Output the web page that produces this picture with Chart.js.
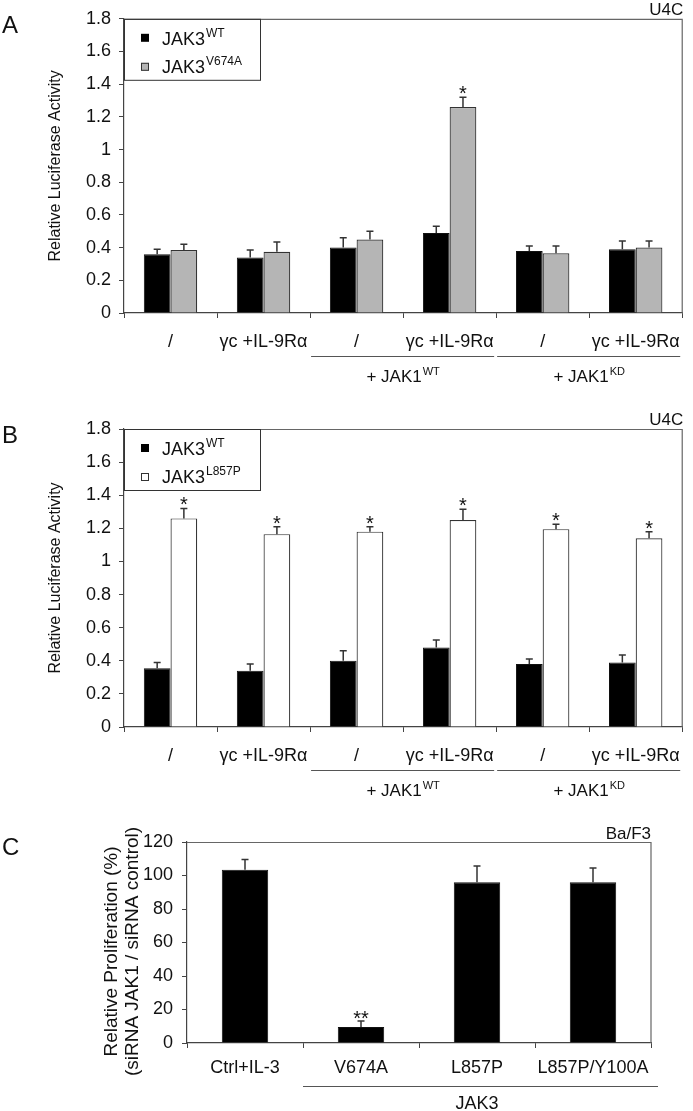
<!DOCTYPE html>
<html>
<head>
<meta charset="utf-8">
<script src="https://cdn.jsdelivr.net/npm/chart.js@4.4.0/dist/chart.umd.min.js"></script>
<style>
  body { margin: 0; background: #fff; width: 693px; height: 1111px; position: relative; overflow: hidden; }
  .panel { position: absolute; left: 0; width: 693px; }
  canvas { display: block; }
</style>
</head>
<body>
<div class="panel" style="top:0;height:400px"><canvas id="chartA" width="693" height="400"></canvas></div>
<div class="panel" style="top:400px;height:410px"><canvas id="chartB" width="693" height="410"></canvas></div>
<div class="panel" style="top:810px;height:301px"><canvas id="chartC" width="693" height="301"></canvas></div>
<script>
const FONT = "'Liberation Sans', Arial, Helvetica, sans-serif";
Chart.defaults.font.family = FONT;
Chart.defaults.color = '#222';
Chart.defaults.animation = false;

// Panels A and B: transfection conditions
const conditions = ['/', 'γc +IL-9Rα', '/', 'γc +IL-9Rα', '/', 'γc +IL-9Rα'];
const lucTicks = [0, 0.2, 0.4, 0.6, 0.8, 1, 1.2, 1.4, 1.6, 1.8];
const lucTickLabels = ['0', '0.2', '0.4', '0.6', '0.8', '1', '1.2', '1.4', '1.6', '1.8'];

// Panel A
const wtA = [0.36, 0.34, 0.40, 0.49, 0.38, 0.39];
const wtAErr = [0.03, 0.045, 0.06, 0.04, 0.03, 0.05];
const v674a = [0.385, 0.375, 0.45, 1.26, 0.365, 0.40];
const v674aErr = [0.035, 0.06, 0.05, 0.06, 0.045, 0.04];
const v674aStars = ['', '', '', '*', '', ''];

// Panel B
const wtB = [0.355, 0.34, 0.40, 0.48, 0.38, 0.39];
const wtBErr = [0.035, 0.04, 0.06, 0.045, 0.03, 0.045];
const l857p = [1.26, 1.165, 1.18, 1.25, 1.195, 1.14];
const l857pErr = [0.06, 0.045, 0.03, 0.065, 0.03, 0.04];
const l857pStars = ['*', '*', '*', '*', '*', '*'];

// Panel C
const mutants = ['Ctrl+IL-3', 'V674A', 'L857P', 'L857P/Y100A'];
const prolif = [103.5, 9.6, 96, 96];
const prolifErr = [6, 3.6, 9.7, 8.5];
const prolifStars = ['', '**', '', ''];
const prolifTicks = [0, 20, 40, 60, 80, 100, 120];

// text with superscript (e.g. JAK3^WT)
function supText(ctx, base, sup, x, y, size, align) {
    const supSize = Math.round(size * 0.66);
    ctx.font = size + 'px ' + FONT;
    const wb = ctx.measureText(base).width;
    ctx.font = supSize + 'px ' + FONT;
    const ws = ctx.measureText(sup).width;
    let x0 = align === 'center' ? x - (wb + ws + 1) / 2 : x;
    ctx.textAlign = 'left';
    ctx.textBaseline = 'alphabetic';
    ctx.font = size + 'px ' + FONT;
    ctx.fillText(base, x0, y);
    ctx.font = supSize + 'px ' + FONT;
    ctx.fillText(sup, x0 + wb + 1, y - size * 0.42);
}

function drawErrors(chart, errs, stars, starSize, starShift) {
    const ctx = chart.ctx;
    const yScale = chart.scales.y;
    ctx.save();
    ctx.strokeStyle = '#333';
    ctx.fillStyle = '#111';
    ctx.lineWidth = 1.5;
    chart.data.datasets.forEach((ds, i) => {
        const meta = chart.getDatasetMeta(i);
        meta.data.forEach((bar, j) => {
            const v = ds.data[j];
            const e = errs[i][j];
            const y0 = yScale.getPixelForValue(v);
            const y1 = yScale.getPixelForValue(v + e);
            ctx.beginPath();
            ctx.moveTo(bar.x, y0);
            ctx.lineTo(bar.x, y1);
            ctx.moveTo(bar.x - 3.5, y1);
            ctx.lineTo(bar.x + 3.5, y1);
            ctx.stroke();
            const s = stars[i] ? stars[i][j] : '';
            if (s) {
                ctx.font = starSize + 'px ' + FONT;
                ctx.textAlign = 'center';
                ctx.textBaseline = 'alphabetic';
                ctx.fillText(s, bar.x, y1 + starShift);
            }
        });
    });
    ctx.restore();
}

function drawFrame(chart) {
    const ctx = chart.ctx;
    const a = chart.chartArea;
    ctx.save();
    ctx.strokeStyle = '#666';
    ctx.lineWidth = 1.2;
    ctx.beginPath();
    ctx.moveTo(a.left, a.top + 0.5);
    ctx.lineTo(a.right, a.top + 0.5);
    ctx.lineTo(a.right, a.bottom);
    ctx.stroke();
    ctx.restore();
}

function makeLucChart(id, cfg) {
    const decor = {
        id: 'decor' + id,
        afterDraw(chart) {
            const ctx = chart.ctx;
            const a = chart.chartArea;
            drawFrame(chart);
            drawErrors(chart, [cfg.wtErr, cfg.mutErr], [null, cfg.mutStars], 20, 3);
            ctx.save();
            ctx.fillStyle = '#111';
            // panel letter
            ctx.font = '24px ' + FONT;
            ctx.textAlign = 'left';
            ctx.textBaseline = 'alphabetic';
            ctx.fillText(cfg.letter, 2, a.top + 14);
            // cell line
            ctx.font = '17px ' + FONT;
            ctx.textAlign = 'right';
            ctx.fillText('U4C', a.right + 1, a.top - 4);
            // y title
            ctx.save();
            ctx.translate(56, (a.top + a.bottom) / 2);
            ctx.rotate(-Math.PI / 2);
            ctx.font = '16px ' + FONT;
            ctx.textAlign = 'center';
            ctx.textBaseline = 'middle';
            ctx.fillText('Relative Luciferase Activity', 0, 0);
            ctx.restore();
            // legend
            ctx.strokeStyle = '#333';
            ctx.lineWidth = 1;
            ctx.strokeRect(a.left + 0.5, a.top + 0.5, 136, 61);
            ctx.fillStyle = '#000';
            ctx.fillRect(a.left + 17, a.top + 15, 8, 8);
            ctx.fillStyle = cfg.mutColor;
            ctx.fillRect(a.left + 17, a.top + 44, 8, 8);
            ctx.strokeRect(a.left + 17.5, a.top + 44.5, 7, 7);
            ctx.fillStyle = '#111';
            supText(ctx, 'JAK3', 'WT', a.left + 38, a.top + 26, 18, 'left');
            supText(ctx, 'JAK3', cfg.mutName, a.left + 38, a.top + 54, 18, 'left');
            // JAK1 group brackets
            const w = (a.right - a.left) / conditions.length;
            ctx.strokeStyle = '#555';
            ctx.lineWidth = 1.2;
            [[2, 'WT'], [4, 'KD']].forEach(([g, sup]) => {
                const x0 = a.left + g * w;
                ctx.beginPath();
                ctx.moveTo(x0 + 1, a.bottom + 43.5);
                ctx.lineTo(x0 + 2 * w - 2, a.bottom + 43.5);
                ctx.stroke();
                ctx.fillStyle = '#111';
                supText(ctx, '+ JAK1', sup, x0 + w, a.bottom + 69, 17, 'center');
            });
            ctx.restore();
        }
    };
    return new Chart(document.getElementById(id), {
        type: 'bar',
        data: {
            labels: conditions,
            datasets: [{
                data: cfg.wt,
                backgroundColor: '#000',
                borderColor: '#111',
                borderWidth: 1,
                categoryPercentage: 0.574,
                barPercentage: 1
            }, {
                data: cfg.mut,
                backgroundColor: cfg.mutColor,
                borderColor: '#333',
                borderWidth: 1.2,
                categoryPercentage: 0.574,
                barPercentage: 1
            }]
        },
        options: {
            responsive: false,
            layout: { padding: { top: cfg.top, right: 4, left: 0, bottom: 0 } },
            plugins: { legend: { display: false }, tooltip: { enabled: false } },
            scales: {
                x: {
                    offset: true,
                    grid: { offset: true, drawOnChartArea: false, drawTicks: true, tickLength: 5, color: '#444' },
                    border: { display: true, color: '#444', width: 1.2 },
                    ticks: { font: { size: 18 }, color: '#111', padding: 13, maxRotation: 0, autoSkip: false },
                    afterFit: (axis) => { axis.height = cfg.xHeight; }
                },
                y: {
                    min: 0,
                    max: 1.8,
                    afterBuildTicks: (axis) => { axis.ticks = lucTicks.map(v => ({ value: v })); },
                    grid: { drawOnChartArea: false, drawTicks: true, tickLength: 5, color: '#444' },
                    border: { display: true, color: '#444', width: 1.2 },
                    ticks: {
                        font: { size: 18 },
                        color: '#111',
                        padding: 8,
                        callback: (v, i) => lucTickLabels[i]
                    },
                    afterFit: (axis) => { axis.width = 124; }
                }
            }
        },
        plugins: [decor]
    });
}

makeLucChart('chartA', {
    letter: 'A', top: 18, xHeight: 87,
    wt: wtA, wtErr: wtAErr, mut: v674a, mutErr: v674aErr, mutStars: v674aStars,
    mutName: 'V674A', mutColor: '#b5b5b5'
});

makeLucChart('chartB', {
    letter: 'B', top: 29, xHeight: 83,
    wt: wtB, wtErr: wtBErr, mut: l857p, mutErr: l857pErr, mutStars: l857pStars,
    mutName: 'L857P', mutColor: '#fff'
});

// Panel C
const decorC = {
    id: 'decorC',
    afterDraw(chart) {
        const ctx = chart.ctx;
        const a = chart.chartArea;
        drawFrame(chart);
        drawErrors(chart, [prolifErr], [prolifStars], 20, 4);
        ctx.save();
        ctx.fillStyle = '#111';
        ctx.font = '24px ' + FONT;
        ctx.textAlign = 'left';
        ctx.textBaseline = 'alphabetic';
        ctx.fillText('C', 2, a.top + 13);
        ctx.font = '17px ' + FONT;
        ctx.textAlign = 'right';
        ctx.fillText('Ba/F3', a.right, a.top - 3);
        ctx.save();
        ctx.translate(112, (a.top + a.bottom) / 2 + 9);
        ctx.rotate(-Math.PI / 2);
        ctx.font = '19px ' + FONT;
        ctx.textAlign = 'center';
        ctx.textBaseline = 'middle';
        ctx.fillText('Relative Proliferation (%)', 0, 0);
        ctx.fillText('(siRNA JAK1 / siRNA control)', 0, 21);
        ctx.restore();
        const w = (a.right - a.left) / mutants.length;
        ctx.strokeStyle = '#555';
        ctx.lineWidth = 1.2;
        ctx.beginPath();
        ctx.moveTo(a.left + w, a.bottom + 43.5);
        ctx.lineTo(a.right + 7, a.bottom + 43.5);
        ctx.stroke();
        ctx.font = '18px ' + FONT;
        ctx.textAlign = 'center';
        ctx.fillText('JAK3', a.left + w * 2.5, a.bottom + 66);
        ctx.restore();
    }
};

new Chart(document.getElementById('chartC'), {
    type: 'bar',
    data: {
        labels: mutants,
        datasets: [{
            data: prolif,
            backgroundColor: '#000',
            borderColor: '#111',
            borderWidth: 1,
            categoryPercentage: 0.4,
            barPercentage: 1
        }]
    },
    options: {
        responsive: false,
        layout: { padding: { top: 32, right: 42, left: 0, bottom: 0 } },
        plugins: { legend: { display: false }, tooltip: { enabled: false } },
        scales: {
            x: {
                offset: true,
                grid: { offset: true, drawOnChartArea: false, drawTicks: true, tickLength: 5, color: '#444' },
                border: { display: true, color: '#444', width: 1.2 },
                ticks: { font: { size: 18 }, color: '#111', padding: 9, maxRotation: 0, autoSkip: false },
                afterFit: (axis) => { axis.height = 68; }
            },
            y: {
                min: 0,
                max: 120,
                afterBuildTicks: (axis) => { axis.ticks = prolifTicks.map(v => ({ value: v })); },
                grid: { drawOnChartArea: false, drawTicks: true, tickLength: 5, color: '#444' },
                border: { display: true, color: '#444', width: 1.2 },
                ticks: { font: { size: 18 }, color: '#111', padding: 9 },
                afterFit: (axis) => { axis.width = 187; }
            }
        }
    },
    plugins: [decorC]
});
</script>
</body>
</html>
